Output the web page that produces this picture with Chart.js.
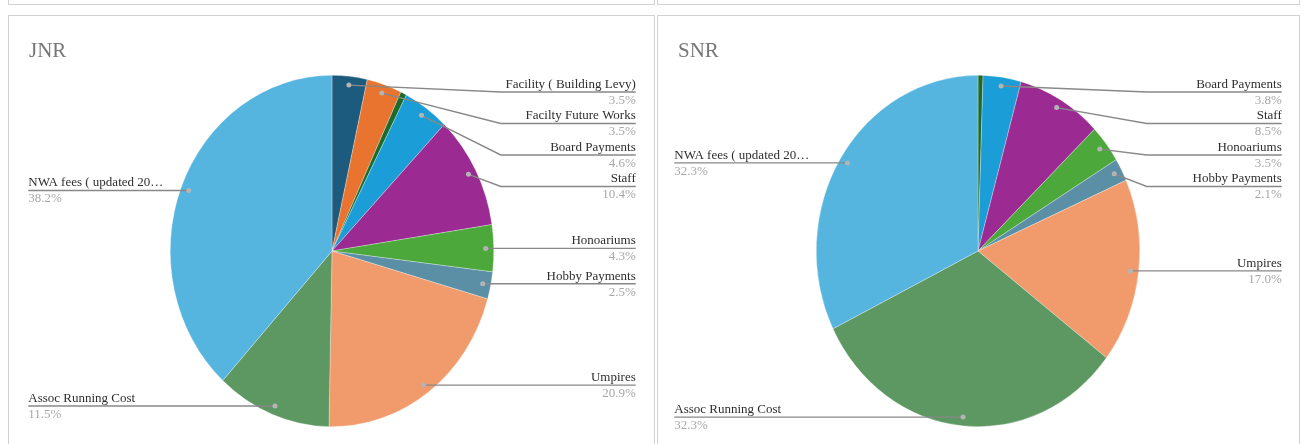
<!DOCTYPE html>
<html>
<head>
<meta charset="utf-8">
<script src="https://cdn.jsdelivr.net/npm/chart.js@4.4.0/dist/chart.umd.min.js"></script>
<style>
  html, body { margin: 0; padding: 0; background: #fff; overflow: hidden; }
  body { width: 1306px; height: 444px; position: relative; }
  .panel { position: absolute; border: 1px solid #d2d2d2; background: #fff; box-sizing: border-box; }
  .panel canvas { position: absolute; left: 0; top: 0; }
</style>
</head>
<body>
<div class="panel" style="left:8px; top:-12px; width:647px; height:17px;"></div>
<div class="panel" style="left:657px; top:-12px; width:643px; height:17px;"></div>
<div class="panel" style="left:8px; top:15px; width:647px; height:450px;">
  <canvas id="jnrChart" width="645" height="428"></canvas>
</div>
<div class="panel" style="left:657px; top:15px; width:643px; height:450px;">
  <canvas id="snrChart" width="641" height="428"></canvas>
</div>
<script>
// JNR breakdown (percent of total)
const jnrLabels = ['Facility ( Building Levy)', 'Facilty Future Works', 'Other', 'Board Payments', 'Staff',
    'Honoariums', 'Hobby Payments', 'Umpires', 'Assoc Running Cost', 'NWA fees ( updated 20…'];
const jnrValues = [3.5, 3.5, 0.6, 4.6, 10.4, 4.3, 2.5, 20.9, 11.5, 38.2];
const jnrColors = ['#1c5b7e', '#e8742f', '#1d6b2c', '#1b9dd7', '#9c2a93',
    '#4ca83b', '#5a8fa6', '#f19b6d', '#5d9862', '#56b5df'];

// SNR breakdown
const snrLabels = ['Other', 'Board Payments', 'Staff', 'Honoariums', 'Hobby Payments',
    'Umpires', 'Assoc Running Cost', 'NWA fees ( updated 20…'];
const snrValues = [0.5, 3.8, 8.5, 3.5, 2.1, 17.0, 32.3, 32.3];
const snrColors = ['#1d6b2c', '#1b9dd7', '#9c2a93', '#4ca83b', '#5a8fa6',
    '#f19b6d', '#5d9862', '#56b5df'];

const FONT = '"Liberation Serif", "Times New Roman", serif';
// the source pie is slightly oval (taller than wide)
const SX = 0.953, SY = 1.035;

// leader-line labels like the spreadsheet pie charts
const calloutPlugin = {
    id: 'callouts',
    beforeDatasetsDraw(chart) {
        const arc = chart.getDatasetMeta(0).data[0];
        const ctx = chart.ctx;
        ctx.save();
        ctx.translate(arc.x, arc.y);
        ctx.scale(SX, SY);
        ctx.translate(-arc.x, -arc.y);
    },
    afterDatasetsDraw(chart, args, opts) {
        const ctx = chart.ctx;
        ctx.restore();
        const meta = chart.getDatasetMeta(0);
        const data = chart.data.datasets[0].data;
        const total = data.reduce((a, b) => a + b, 0);
        const items = [];
        meta.data.forEach((arc, i) => {
            const p = arc.getProps(['x', 'y', 'startAngle', 'endAngle', 'outerRadius'], true);
            const pct = data[i] / total * 100;
            if (pct < 1) return;
            const mid = (p.startAngle + p.endAngle) / 2;
            const dx = p.x + Math.cos(mid) * p.outerRadius * 0.95 * SX;
            const dy = p.y + Math.sin(mid) * p.outerRadius * 0.95 * SY;
            items.push({
                i, pct, dx, dy, cx: p.x, cy: p.y, r: p.outerRadius,
                right: Math.cos(mid) >= 0, y: dy
            });
        });

        // push labels apart, keeping the first one below the top limit
        ['right', 'left'].forEach(side => {
            const list = items.filter(it => (side === 'right') === it.right).sort((a, b) => a.y - b.y);
            list.forEach((it, k) => {
                const minY = k === 0 ? it.cy - 159 : list[k - 1].y + 31.5;
                if (it.y < minY) it.y = minY;
            });
        });

        ctx.save();
        items.forEach(it => {
            const dir = it.right ? 1 : -1;
            const elbowX = it.cx + dir * (it.r * SX + 7);
            const endX = it.cx + dir * (it.r + 134);
            ctx.strokeStyle = '#888';
            ctx.lineWidth = 1.4;
            ctx.beginPath();
            ctx.moveTo(it.dx, it.dy);
            ctx.lineTo(elbowX, it.y);
            ctx.lineTo(endX, it.y);
            ctx.stroke();

            ctx.fillStyle = '#b4b4b4';
            ctx.beginPath();
            ctx.arc(it.dx, it.dy, 2.5, 0, Math.PI * 2);
            ctx.fill();

            ctx.textAlign = it.right ? 'right' : 'left';
            ctx.font = '13px ' + FONT;
            ctx.fillStyle = '#2e2e2e';
            ctx.textBaseline = 'bottom';
            ctx.fillText(chart.data.labels[it.i], endX, it.y - 1);
            ctx.fillStyle = '#a8a8a8';
            ctx.textBaseline = 'top';
            ctx.fillText(it.pct.toFixed(1) + '%', endX, it.y + 2);
        });

        // chart title, top-left
        ctx.font = '21px ' + FONT;
        ctx.fillStyle = '#777';
        ctx.textAlign = 'left';
        ctx.textBaseline = 'middle';
        ctx.fillText(opts.title, 20, 35);
        ctx.restore();
    }
};

function makePie(id, labels, values, colors, title, pad) {
    return new Chart(document.getElementById(id), {
        type: 'pie',
        data: {
            labels: labels,
            datasets: [{
                data: values,
                backgroundColor: colors,
                borderColor: 'rgba(255,255,255,0.6)',
                borderWidth: 0.5
            }]
        },
        options: {
            responsive: false,
            animation: false,
            layout: { padding: pad },
            plugins: {
                legend: { display: false },
                tooltip: { enabled: false },
                callouts: { title: title }
            }
        },
        plugins: [calloutPlugin]
    });
}

makePie('jnrChart', jnrLabels, jnrValues, jnrColors, 'JNR', { top: 65, bottom: 23, left: 153, right: 152 });
makePie('snrChart', snrLabels, snrValues, snrColors, 'SNR', { top: 65, bottom: 23, left: 150, right: 151 });
</script>
</body>
</html>
